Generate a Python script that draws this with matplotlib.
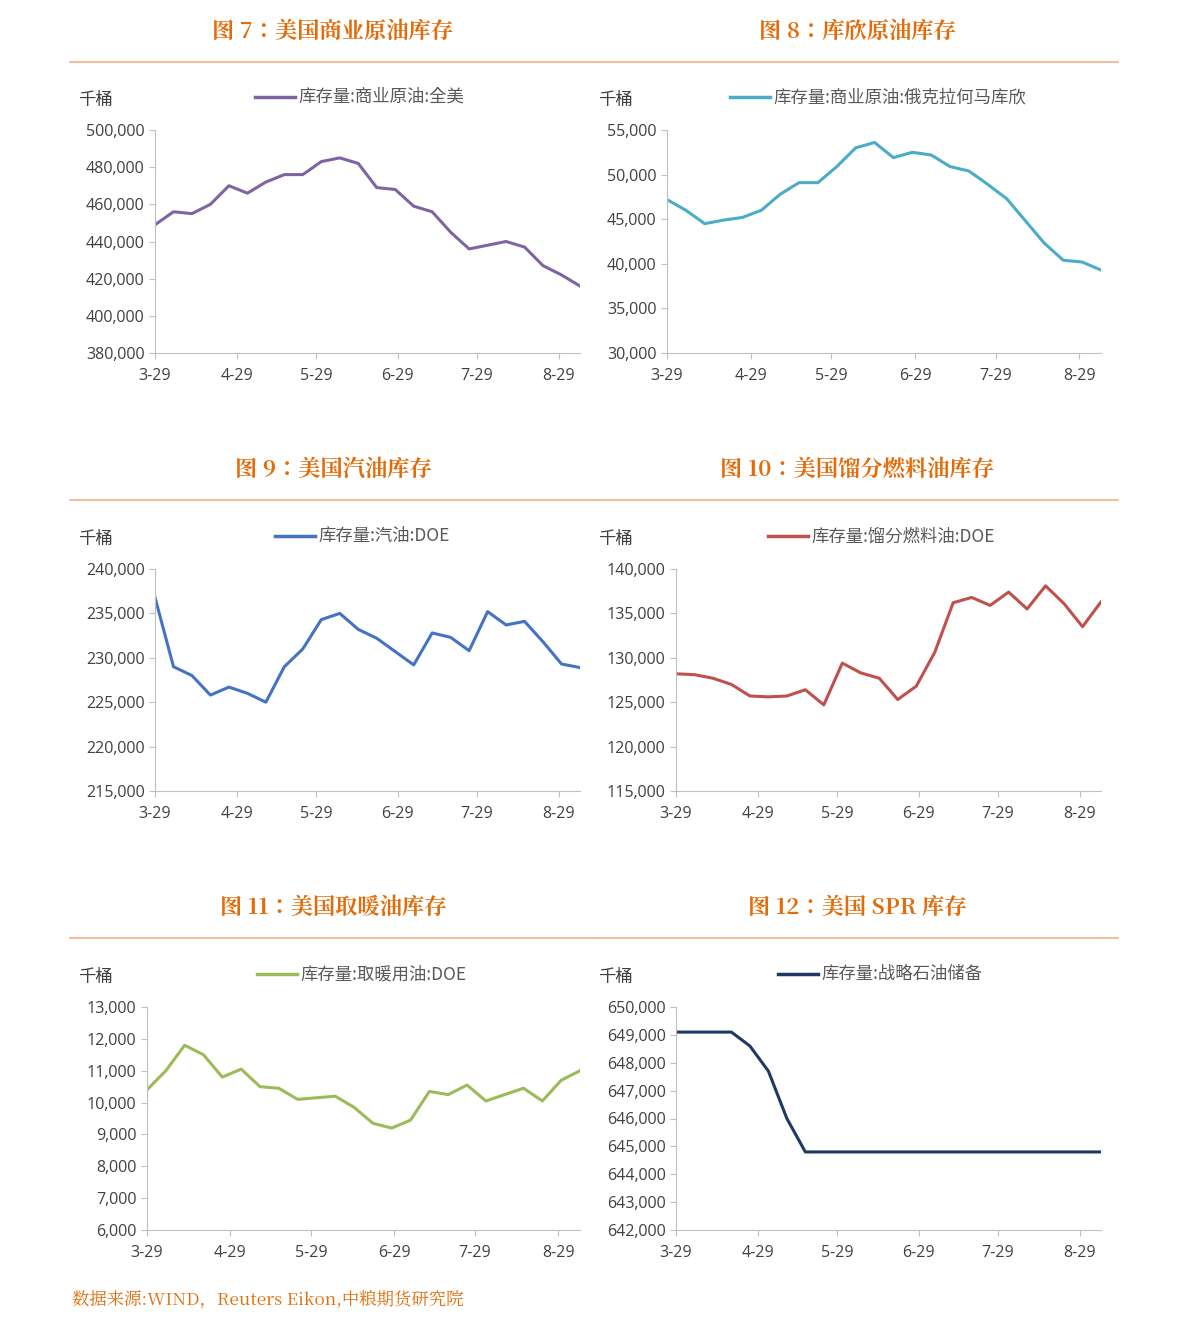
import matplotlib
matplotlib.use("Agg")
import matplotlib.pyplot as plt
from matplotlib.lines import Line2D
from matplotlib.font_manager import FontProperties

plt.rcParams["font.family"] = ["Open Sans", "DejaVu Sans"]
CJK = "/usr/share/fonts/opentype/noto/NotoSansCJK-Regular.ttc"
CJK_SERIF_B = "/usr/share/fonts/opentype/noto/NotoSerifCJK-Bold.ttc"
CJK_SERIF = "/usr/share/fonts/opentype/noto/NotoSerifCJK-Regular.ttc"

W, H = 1191, 1330
ORANGE = "#E36C0A"

# days since 3-29, weekly
days = [7 * i for i in range(24)]
tick_days = [0, 31, 61, 92, 122, 153]
tick_labels = ["3-29", "4-29", "5-29", "6-29", "7-29", "8-29"]

crude_us = [449, 456, 455, 460, 470, 466, 472, 476, 476, 483, 485, 482,
            469, 468, 459, 456, 445, 436, 438, 440, 437, 427, 422, 416]
cushing = [47.2, 46.0, 44.5, 44.9, 45.2, 46.0, 47.8, 49.1, 49.1, 50.9, 53.0, 53.6,
           51.9, 52.5, 52.2, 50.9, 50.4, 48.9, 47.3, 44.8, 42.3, 40.4, 40.2, 39.3]
gasoline = [236.8, 229.0, 228.0, 225.8, 226.7, 226.0, 225.0, 229.0, 231.0, 234.3, 235.0, 233.2,
            232.2, 230.7, 229.2, 232.8, 232.3, 230.8, 235.2, 233.7, 234.1, 231.8, 229.3, 228.9]
distillate = [128.2, 128.1, 127.7, 127.0, 125.7, 125.6, 125.7, 126.4, 124.7, 129.4, 128.3, 127.7,
              125.3, 126.8, 130.6, 136.2, 136.8, 135.9, 137.4, 135.5, 138.1, 136.1, 133.5, 136.3]
heating = [10.4, 11.0, 11.8, 11.5, 10.8, 11.05, 10.5, 10.45, 10.1, 10.15, 10.2, 9.85,
           9.35, 9.2, 9.45, 10.35, 10.25, 10.55, 10.05, 10.25, 10.45, 10.05, 10.7, 11.0]
spr = [649.1, 649.1, 649.1, 649.1, 648.6, 647.7, 646.0, 644.8] + [644.8] * 16

panels = [
    ("图 7：美国商业原油库存", "库存量:商业原油:全美", [v * 1000 for v in crude_us], "#8064A2",
     (380000, 500000, 20000), (155, 580, 130, 353), 0),
    ("图 8：库欣原油库存", "库存量:商业原油:俄克拉何马库欣", [v * 1000 for v in cushing], "#4BACC6",
     (30000, 55000, 5000), (667, 1101, 130, 353), 1),
    ("图 9：美国汽油库存", "库存量:汽油:DOE", [v * 1000 for v in gasoline], "#4472C4",
     (215000, 240000, 5000), (155, 580, 569, 791), 0),
    ("图 10：美国馏分燃料油库存", "库存量:馏分燃料油:DOE", [v * 1000 for v in distillate], "#C0504D",
     (115000, 140000, 5000), (676, 1101, 569, 791), 1),
    ("图 11：美国取暖油库存", "库存量:取暖用油:DOE", [v * 1000 for v in heating], "#9BBB59",
     (6000, 13000, 1000), (147, 580, 1007, 1230), 0),
    ("图 12：美国 SPR 库存", "库存量:战略石油储备", [v * 1000 for v in spr], "#1F3864",
     (642000, 650000, 1000), (676, 1101, 1007, 1230), 1),
]

fig = plt.figure(figsize=(W / 100, H / 100), dpi=100)
fig.patch.set_facecolor("white")

title_y = [32, 32, 470, 470, 908, 908]
for i, (title, label, vals, color, (lo, hi, step), (x0, x1, y0, y1), col) in enumerate(panels):
    ax = fig.add_axes([x0 / W, 1 - y1 / H, (x1 - x0) / W, (y1 - y0) / H])
    ax.plot(days, vals, color=color, lw=2.2)
    ax.set_xlim(0, 161)
    ax.set_ylim(lo, hi)
    ax.set_yticks(range(lo, hi + 1, step))
    ax.set_yticklabels([f"{v:,}" for v in range(lo, hi + 1, step)])
    ax.set_xticks(tick_days)
    ax.set_xticklabels(tick_labels)
    for s in ["top", "right"]:
        ax.spines[s].set_visible(False)
    for s in ["left", "bottom"]:
        ax.spines[s].set_color("#BFBFBF")
    ax.tick_params(colors="#BFBFBF", labelcolor="#404040", labelsize=11.5, length=4)
    ax.tick_params(axis="x", pad=7)
    ax.patch.set_alpha(0)

    # title, rule, unit, legend
    cx = 333 if col == 0 else 857
    fig.text(cx / W, 1 - title_y[i] / H, title, ha="center", va="center",
             fontproperties=FontProperties(fname=CJK_SERIF_B, size=16), color=ORANGE)
    lx0, lx1 = (70, 595) if col == 0 else (595, 1118)
    ry = title_y[i] + 30
    fig.add_artist(Line2D([lx0 / W, lx1 / W], [1 - ry / H] * 2, color="#F4B183", lw=1.2))
    ux = 78 if col == 0 else 598
    fig.text(ux / W, 1 - (y0 - 30) / H, "千桶", ha="left", va="center",
             fontproperties=FontProperties(fname=CJK, size=12.5), color="#404040")
    legx = {0: 255, 1: 730, 2: 275, 3: 768, 4: 257, 5: 778}[i]
    ly = 1 - (y0 - 33) / H
    fig.add_artist(Line2D([legx / W, (legx + 40) / W], [ly, ly], color=color, lw=2.5))
    fig.text((legx + 43) / W, ly, label, ha="left", va="center",
             fontproperties=FontProperties(fname=CJK, size=12.5), color="#595959")

fig.text(72 / W, 1 - 1300 / H, "数据来源:WIND，Reuters Eikon,中粮期货研究院", ha="left", va="center",
         fontproperties=FontProperties(fname=CJK_SERIF, size=12.5), color=ORANGE)

fig.savefig("out.png", dpi=100, facecolor="white")
